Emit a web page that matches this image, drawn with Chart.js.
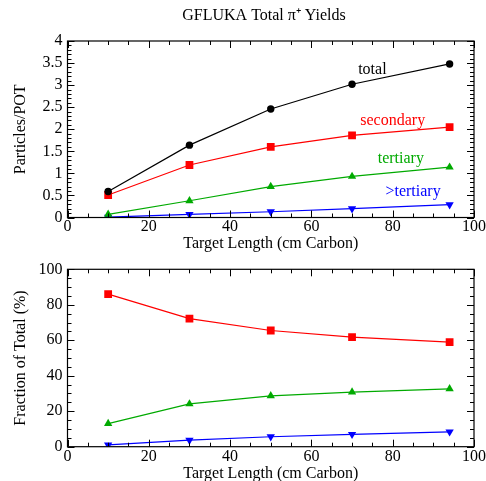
<!DOCTYPE html>
<html>
<head>
<meta charset="utf-8">
<script src="https://cdn.jsdelivr.net/npm/chart.js@4.4.1/dist/chart.umd.min.js"></script>
<style>
  body { margin: 0; background: #fff; }
  #wrap { position: relative; width: 486px; height: 481px; }
  canvas { position: absolute; left: 0; }
</style>
</head>
<body>
<div id="wrap">
  <canvas id="yieldChart" width="486" height="253" style="top:0"></canvas>
  <canvas id="fracChart" width="486" height="228" style="top:253px"></canvas>
</div>
<script>
// Data
const targetLength = [10, 30, 50, 70, 94];

const totalYield = [0.59, 1.64, 2.46, 3.02, 3.48];
const secondaryYield = [0.51, 1.19, 1.60, 1.86, 2.05];
const tertiaryYield = [0.07, 0.38, 0.70, 0.93, 1.14];
const higherYield = [0.01, 0.07, 0.13, 0.20, 0.29];

const secondaryFrac = [86.0, 72.2, 65.5, 61.8, 59.0];
const tertiaryFrac = [13.0, 24.1, 28.7, 30.8, 32.6];
const higherFrac = [1.0, 3.7, 5.6, 7.0, 8.4];

const seriesNames = ["total", "secondary", "tertiary", ">tertiary"];
const seriesColors = ["#000000", "#ff0000", "#00aa00", "#0000ff"];

const FONT = "'Liberation Serif', 'Times New Roman', serif";

function pts(ys) {
  return targetLength.map((x, i) => ({ x, y: ys[i] }));
}

// Frame with inward major/minor ticks on all four sides, plus text labels
const framePlugin = {
  id: "frame",
  afterDraw(chart, args, opts) {
    const { ctx, chartArea: a, scales: { x, y } } = chart;
    ctx.save();
    ctx.strokeStyle = "#000";
    ctx.lineWidth = 1.2;
    ctx.strokeRect(a.left, a.top, a.right - a.left, a.bottom - a.top);

    ctx.beginPath();
    ctx.lineWidth = 1;
    const isMajor = (v, step) => Math.abs(v / step - Math.round(v / step)) < 1e-6;
    for (let i = 0; x.min + i * opts.xMinor <= x.max + 1e-9; i++) {
      const v = x.min + i * opts.xMinor;
      const px = Math.round(x.getPixelForValue(v)) + 0.5;
      const len = isMajor(v, opts.xMajor) ? 7 : 4;
      ctx.moveTo(px, a.bottom); ctx.lineTo(px, a.bottom - len);
      ctx.moveTo(px, a.top); ctx.lineTo(px, a.top + len);
    }
    for (let i = 0; y.min + i * opts.yMinor <= y.max + 1e-9; i++) {
      const v = y.min + i * opts.yMinor;
      const py = Math.round(y.getPixelForValue(v)) + 0.5;
      const len = isMajor(v, opts.yMajor) ? 7 : 4;
      ctx.moveTo(a.left, py); ctx.lineTo(a.left + len, py);
      ctx.moveTo(a.right, py); ctx.lineTo(a.right - len, py);
    }
    ctx.stroke();

    ctx.font = "16px " + FONT;
    ctx.textAlign = "center";
    ctx.textBaseline = "middle";
    (opts.labels || []).forEach(l => {
      ctx.fillStyle = l.color;
      ctx.fillText(l.text, x.getPixelForValue(l.x), y.getPixelForValue(l.y));
    });

    if (opts.title) {
      ctx.fillStyle = "#000";
      ctx.textBaseline = "alphabetic";
      ctx.fillText(opts.title, 264, 19.5);
    }
    ctx.restore();
  }
};

function makeDataset(label, data, color, style, size, rotation) {
  return {
    label,
    data: pts(data),
    borderColor: color,
    backgroundColor: color,
    borderWidth: 1.2,
    pointStyle: style,
    pointRadius: size,
    pointRotation: rotation || 0,
    pointBorderWidth: 0,
    tension: 0,
    fill: false
  };
}

function baseOptions(cfg) {
  return {
    responsive: false,
    animation: false,
    layout: { padding: { top: cfg.padTop, right: 12, left: 0, bottom: 0 } },
    plugins: {
      legend: { display: false },
      tooltip: { enabled: false },
      frame: cfg.frame
    },
    scales: {
      x: {
        type: "linear",
        min: 0, max: 100,
        grid: { display: false, drawTicks: false },
        border: { display: false },
        ticks: { stepSize: 20, autoSkip: false, padding: 0, color: "#000", font: { family: FONT, size: 16 } },
        title: {
          display: true, text: "Target Length (cm Carbon)", color: "#000",
          font: { family: FONT, size: 16 }, padding: { top: 0, bottom: cfg.xTitlePad }
        },
        afterFit: s => { s.height = cfg.xHeight; }
      },
      y: {
        min: cfg.yMin, max: cfg.yMax,
        grid: { display: false, drawTicks: false },
        border: { display: false },
        ticks: {
          stepSize: cfg.yStep, autoSkip: false, padding: 5, color: "#000",
          font: { family: FONT, size: 16 },
          callback: v => String(+v.toFixed(2))
        },
        title: {
          display: true, text: cfg.yTitle, color: "#000",
          font: { family: FONT, size: 16 }, padding: { top: 11, bottom: 0 }
        },
        afterFit: s => { s.width = 67.5; }
      }
    }
  };
}

new Chart(document.getElementById("yieldChart"), {
  type: "line",
  data: {
    datasets: [
      makeDataset(seriesNames[0], totalYield, seriesColors[0], "circle", 3.7),
      makeDataset(seriesNames[1], secondaryYield, seriesColors[1], "rect", 5.5),
      makeDataset(seriesNames[2], tertiaryYield, seriesColors[2], "triangle", 4.8),
      makeDataset(seriesNames[3], higherYield, seriesColors[3], "triangle", 4.8, 180)
    ]
  },
  options: baseOptions({
    padTop: 41, xHeight: 35.5, xTitlePad: 0,
    yMin: 0, yMax: 4, yStep: 0.5, yTitle: "Particles/POT",
    frame: {
      xMajor: 20, xMinor: 5, yMajor: 0.5, yMinor: 0.1,
      title: "GFLUKA Total \u03c0\u207a Yields",
      labels: [
        { text: seriesNames[0], x: 75, y: 3.35, color: seriesColors[0] },
        { text: seriesNames[1], x: 80, y: 2.2, color: seriesColors[1] },
        { text: seriesNames[2], x: 82, y: 1.34, color: seriesColors[2] },
        { text: seriesNames[3], x: 85, y: 0.58, color: seriesColors[3] }
      ]
    }
  }),
  plugins: [framePlugin]
});

new Chart(document.getElementById("fracChart"), {
  type: "line",
  data: {
    datasets: [
      makeDataset(seriesNames[1], secondaryFrac, seriesColors[1], "rect", 5.5),
      makeDataset(seriesNames[2], tertiaryFrac, seriesColors[2], "triangle", 4.8),
      makeDataset(seriesNames[3], higherFrac, seriesColors[3], "triangle", 4.8, 180)
    ]
  },
  options: baseOptions({
    padTop: 16.3, xHeight: 34.3, xTitlePad: -2,
    yMin: 0, yMax: 100, yStep: 20, yTitle: "Fraction of Total (%)",
    frame: { xMajor: 20, xMinor: 5, yMajor: 20, yMinor: 5 }
  }),
  plugins: [framePlugin]
});
</script>
</body>
</html>
